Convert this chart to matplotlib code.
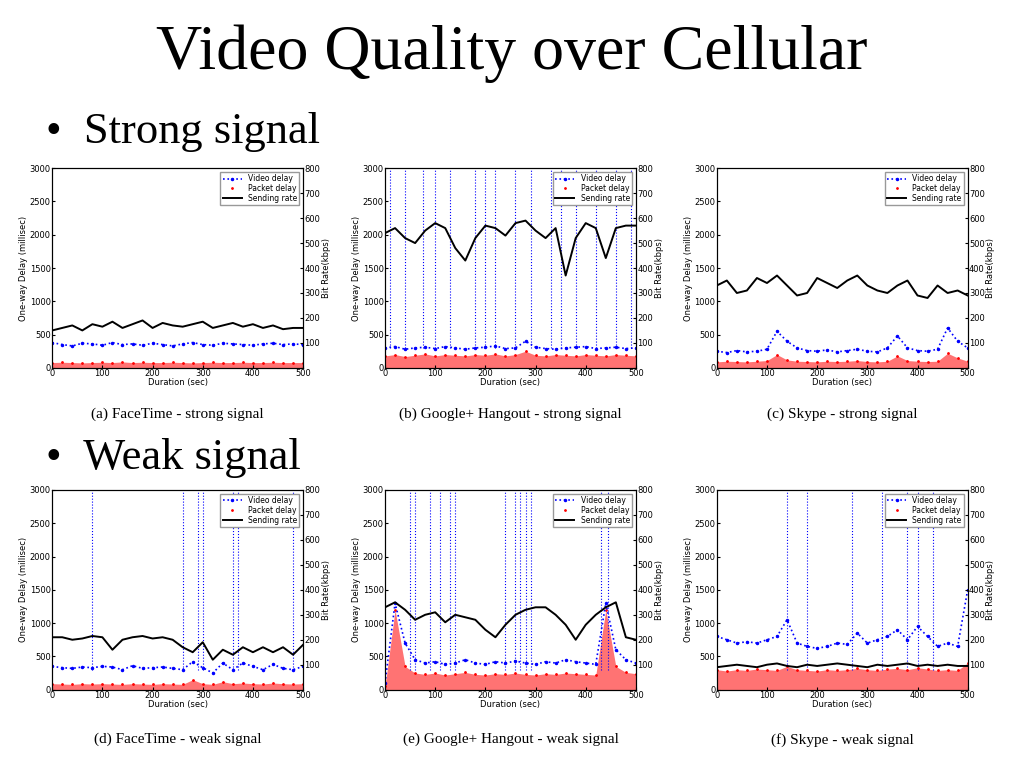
import numpy as np
import matplotlib.pyplot as plt

# ---------------------------------------------------------
# Data read off the slide (approximate), sampled every 20 s
# ---------------------------------------------------------
T = np.arange(0, 501, 20)

# sending rate (kbps, right axis)
RATE_A = [150, 160, 170, 150, 175, 165, 185, 160, 175, 190, 160, 180, 170,
          165, 175, 185, 160, 170, 180, 165, 175, 160, 170, 155, 160, 160]
RATE_B = [540, 560, 520, 500, 550, 580, 560, 480, 430, 520, 570, 560, 530,
          580, 590, 550, 520, 560, 370, 520, 580, 560, 440, 560, 570, 570]
RATE_C = [330, 350, 300, 310, 360, 340, 370, 330, 290, 300, 360, 340, 320,
          350, 370, 330, 310, 300, 330, 350, 290, 280, 330, 300, 310, 290]
RATE_D = [210, 210, 200, 205, 215, 210, 160, 200, 210, 215, 205, 210, 200,
          170, 150, 190, 120, 160, 140, 170, 150, 170, 150, 170, 140, 180]
RATE_E = [330, 350, 320, 280, 300, 310, 270, 300, 290, 280, 240, 210, 260,
          300, 320, 330, 330, 300, 260, 200, 260, 300, 330, 350, 210, 200]
RATE_F = [90, 95, 100, 95, 90, 100, 105, 95, 90, 100, 95, 100, 105,
          100, 95, 90, 100, 95, 100, 105, 95, 100, 95, 100, 95, 95]

# video delay (ms, blue)
VID_A = [380, 350, 330, 370, 360, 340, 380, 350, 360, 340, 370, 350, 330,
         360, 380, 350, 340, 370, 360, 350, 340, 360, 370, 350, 360, 350]
VID_B = [300, 320, 280, 300, 310, 290, 320, 300, 280, 300, 310, 330, 290,
         300, 400, 310, 290, 280, 300, 310, 320, 290, 300, 310, 290, 300]
VID_C = [250, 230, 260, 240, 250, 280, 550, 400, 300, 260, 250, 270, 240,
         260, 280, 250, 240, 300, 480, 300, 260, 250, 280, 600, 400, 300]
VID_D = [350, 330, 320, 340, 330, 350, 340, 300, 360, 320, 330, 340, 320,
         300, 420, 330, 250, 400, 300, 400, 350, 300, 380, 320, 300, 350]
VID_E = [100, 1300, 700, 450, 400, 420, 380, 400, 450, 400, 380, 420, 400,
         430, 400, 380, 420, 400, 450, 420, 400, 380, 1300, 600, 450, 400]
VID_F = [800, 750, 700, 720, 700, 750, 800, 1050, 700, 650, 620, 650, 700,
         680, 850, 700, 750, 800, 900, 750, 950, 800, 650, 700, 650, 1500]

# packet delay (ms, red)
PKT_A = [80, 85, 80, 75, 80, 85, 80, 90, 80, 85, 80, 80, 85,
         80, 75, 80, 85, 80, 80, 85, 80, 80, 85, 80, 80, 80]
PKT_B = [180, 200, 170, 190, 210, 180, 200, 190, 180, 200, 190, 210, 180,
         200, 250, 190, 180, 200, 190, 180, 200, 190, 180, 200, 190, 180]
PKT_C = [90, 100, 95, 90, 100, 110, 200, 120, 100, 95, 90, 100, 95,
         100, 110, 95, 90, 100, 180, 110, 100, 95, 100, 220, 150, 100]
PKT_D = [90, 85, 80, 90, 85, 90, 85, 80, 90, 85, 80, 90, 85,
         80, 150, 90, 80, 120, 90, 100, 90, 85, 100, 90, 85, 90]
PKT_E = [50, 1200, 350, 250, 230, 250, 220, 240, 260, 230, 220, 240, 230,
         250, 230, 220, 240, 230, 250, 240, 230, 220, 1200, 350, 260, 240]
PKT_F = [300, 280, 300, 290, 310, 300, 290, 350, 300, 290, 280, 300, 290,
         300, 320, 300, 290, 310, 320, 300, 330, 310, 290, 300, 290, 400]

# x positions of vertical delay spikes (reaching ~3000 ms)
SPIKE_B = [10, 40, 75, 100, 130, 180, 200, 220, 260, 290, 330, 350, 380, 420, 460, 490]
SPIKE_D = [80, 260, 290, 300, 360, 370, 480]
SPIKE_E = [50, 60, 90, 110, 130, 140, 240, 260, 270, 280, 290, 430, 445]
SPIKE_F = [140, 180, 270, 330, 380, 400, 430]

CAPTIONS = ["(a) FaceTime - strong signal", "(b) Google+ Hangout - strong signal",
            "(c) Skype - strong signal", "(d) FaceTime - weak signal",
            "(e) Google+ Hangout - weak signal", "(f) Skype - weak signal"]

PANELS = [
    (RATE_A, VID_A, PKT_A, []),
    (RATE_B, VID_B, PKT_B, SPIKE_B),
    (RATE_C, VID_C, PKT_C, []),
    (RATE_D, VID_D, PKT_D, SPIKE_D),
    (RATE_E, VID_E, PKT_E, SPIKE_E),
    (RATE_F, VID_F, PKT_F, SPIKE_F),
]

fig = plt.figure(figsize=(10.24, 7.68), dpi=100)
fig.text(0.5, 0.93, "Video Quality over Cellular", ha="center", va="center",
         fontsize=46, family="Liberation Serif")
fig.text(0.045, 0.828, "\u2022  Strong signal", ha="left", va="center",
         fontsize=32, family="Liberation Serif")
fig.text(0.045, 0.403, "\u2022  Weak signal", ha="left", va="center",
         fontsize=32, family="Liberation Serif")

lefts = [0.051, 0.376, 0.700]
bottoms = [0.521, 0.102]
caption_y = [0.46, 0.037]

for i, (rate, vid, pkt, spikes) in enumerate(PANELS):
    r, c = divmod(i, 3)
    ax = fig.add_axes([lefts[c], bottoms[r], 0.245, 0.26])
    ax2 = ax.twinx()

    if spikes:
        ax.vlines(spikes, 300, 3000, colors="b", linestyles=":", linewidth=0.8)
    ax.fill_between(T, 0, pkt, color="r", alpha=0.55, linewidth=0)
    ax.plot(T, pkt, ".", color="r", markersize=2)
    ax.plot(T, vid, ".", color="b", markersize=3, linestyle=":", linewidth=1.2,
            label="Video delay")
    ax.plot([], [], ".", color="r", markersize=2, label="Packet delay")
    ax2.plot(T, rate, color="k", linewidth=1.4, label="Sending rate")

    ax.set_xlim(0, 500)
    ax.set_ylim(0, 3000)
    ax2.set_ylim(0, 800)
    ax.set_xticks(range(0, 501, 100))
    ax.set_yticks(range(0, 3001, 500))
    ax2.set_yticks(range(0, 801, 100))
    ax2.set_yticklabels([""] + [str(v) for v in range(100, 801, 100)])
    ax.tick_params(labelsize=6, direction="in", length=2, pad=1)
    ax2.tick_params(labelsize=6, direction="in", length=2, pad=1)
    ax.set_xlabel("Duration (sec)", fontsize=6, labelpad=0)
    ax.set_ylabel("One-way Delay (millisec)", fontsize=6, labelpad=1)
    ax2.set_ylabel("Bit Rate(kbps)", fontsize=6, labelpad=1)

    h1, l1 = ax.get_legend_handles_labels()
    h2, l2 = ax2.get_legend_handles_labels()
    ax2.legend(h1 + h2, l1 + l2, loc="upper right", fontsize=5.5,
               framealpha=1, fancybox=False, edgecolor="0.6",
               handlelength=2.5, borderpad=0.3, labelspacing=0.1)

    fig.text(lefts[c] + 0.1225, caption_y[r], CAPTIONS[i], ha="center",
             va="center", fontsize=11, family="Liberation Serif")

fig.savefig("out.png", dpi=100)
